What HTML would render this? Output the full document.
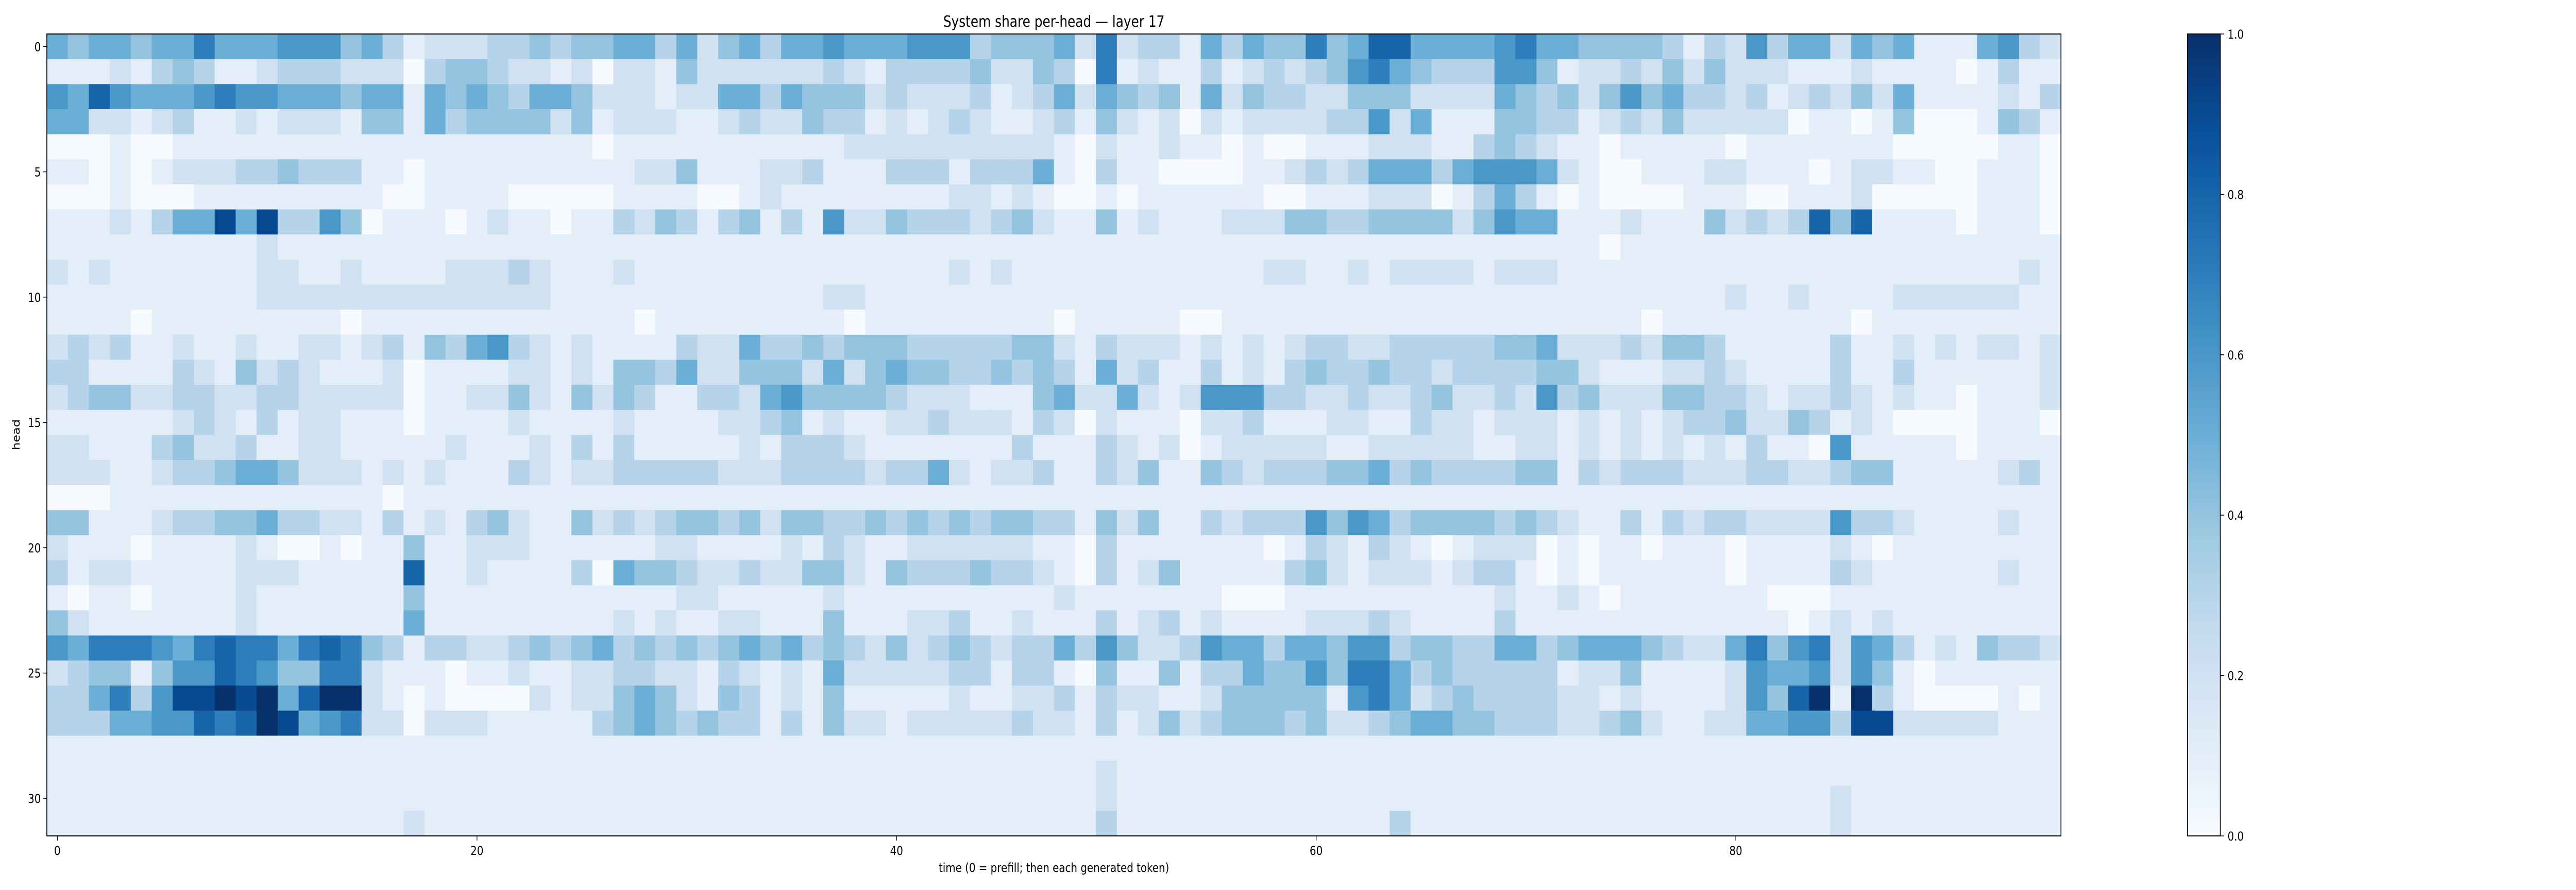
<!DOCTYPE html>
<html><head><meta charset="utf-8"><style>
html,body{margin:0;padding:0;background:#fff;width:100%;height:100%;overflow:hidden;}
#chart{display:block;position:absolute;left:0;top:0;width:100vw;height:100vh;}
svg text{font-family:"DejaVu Sans","Liberation Sans",sans-serif;fill:#000;}
</style></head><body>
<svg id="chart" viewBox="0 0 6047 1728" preserveAspectRatio="none" xmlns="http://www.w3.org/2000/svg">
<defs><linearGradient id="cbgrad" x1="0" y1="1" x2="0" y2="0">
<stop offset="0" stop-color="#f7fbff"/><stop offset="0.125" stop-color="#deebf7"/><stop offset="0.25" stop-color="#c6dbef"/><stop offset="0.375" stop-color="#9ecae1"/><stop offset="0.5" stop-color="#6baed6"/><stop offset="0.625" stop-color="#4292c6"/><stop offset="0.75" stop-color="#2171b5"/><stop offset="0.875" stop-color="#08519c"/><stop offset="1" stop-color="#08306b"/>
</linearGradient></defs>
<text x="2474" y="52" font-size="30" text-anchor="middle">System share per-head — layer 17</text>
<g id="cells"></g>
<g id="axes"></g>
<text x="2474" y="1693" font-size="24" text-anchor="middle">time (0 = prefill; then each generated token)</text>
<text x="0" y="0" font-size="24" text-anchor="middle" transform="translate(46,844) rotate(-90)">head</text>
<rect x="5135" y="66" width="77" height="1557" fill="url(#cbgrad)" stroke="#000" stroke-width="2"/>
<g id="cbticks"></g>
</svg>
<script>
const xTicks = [0, 20, 40, 60, 80];
const yTicks = [0, 5, 10, 15, 20, 25, 30];
const cbTicks = [0.0, 0.2, 0.4, 0.6, 0.8, 1.0];
const cbTickLabels = ["0.0", "0.2", "0.4", "0.6", "0.8", "1.0"];
// each char: hex digit / 10 = system share
const rows = [
"54554557 55566645 31222334 34455352 45355655 56663444 52723315 35447458 85555675 54444313 26355254 51115632",
"11121343 11233322 20344322 12022142 22222321 33334224 30712113 12323467 54333664 12232424 22211121 11101311",
"65865556 76655545 51545435 54222122 55354442 32223123 52543415 24332244 42222543 42464533 23123242 51111213",
"55221231 12122214 41534444 24122211 23224331 21232112 31421202 12222336 25111443 31232422 22201101 40001431",
"00010011 11111111 11111111 11011111 11111122 22222222 10211211 01001112 22113432 11011111 01111111 00000110",
"11010122 23343331 10111111 11112241 11223111 33313335 10311000 01123235 55356665 21001112 21110122 11001110",
"00010001 11111111 00111100 00011110 01211111 11122121 00101111 11001112 22013531 01000011 10011120 00001110",
"11121355 95933640 11101211 01132431 34131622 43332342 11412111 22244334 44424655 11121114 23238481 11101110",
"11111111 11211111 11111111 11111111 11111111 11111111 11111111 11111111 11111111 11011111 11111111 11111111",
"21211111 11221121 11122232 11121111 11111111 11121211 11111111 11221121 22221222 11111111 11111111 11111121",
"11111111 11222222 22222222 11111111 11111221 11111111 11111111 11111111 11111111 11111111 21121111 22222211",
"11110111 11111101 11111111 11110111 11111101 11111111 01111100 11111111 11111111 11110111 11111101 11111111",
"23231121 12112212 31435632 12111132 25334344 43333344 21322212 12123322 33333445 22232443 11111311 21212212",
"33111132 14232111 20111122 12144352 24442524 54433434 31523113 12134334 33233334 42111223 21111311 31111112",
"23442233 22332222 20112242 14243113 32564444 32221114 52252126 66332232 23422326 34222443 32122321 21101112",
"11111123 21312211 10111121 11121111 22341211 22322213 20211102 23111221 13221222 12121233 42243121 00001110",
"22111342 23112211 11121112 13131111 12133321 11111131 11321201 22222112 22221122 12121212 13110611 11101111",
"22211233 45542221 21211132 12233333 22233332 33521223 11324114 32333445 34333344 13233322 23322344 11111231",
"00011111 11111111 01111111 11111111 11111111 11111111 11111111 11111111 11111111 11111111 11111111 11111111",
"44111233 44533221 31213421 14232344 34244334 34343443 31424113 23336465 34444343 21131323 32222633 21111211",
"21110111 12100101 14112221 11111221 11121321 12222221 10311111 11013213 21012220 10110111 01111210 11111111",
"31221111 12221111 18112111 13054432 23224421 43334332 10312411 11134212 22123310 10111111 01111321 11111211",
"10110111 12111111 14111111 11111122 11111211 11111111 21111111 00011111 11111211 21011111 11000111 11111111",
"42111111 12111111 15111111 11121211 22111411 12231121 11312312 11112223 21111311 11111111 11101212 11111111",
"65777657 87757874 31332234 34534343 45453432 42343233 53642236 55355466 34433553 45554322 57467265 31214332",
"23441466 87644772 11101121 12233221 32121522 22233133 10411413 35446477 53433333 12241111 26556264 10111111",
"33573699 a9a58aa2 10100002 12245421 43121411 11121122 31322112 44444167 52343333 22121111 2648a1a3 10000101",
"33355668 78a95672 20222111 11345434 33131422 12222232 21312423 44434223 45544333 22342112 25566399 22222111",
"11111111 11111111 11111111 11111111 11111111 11111111 11111111 11111111 11111111 11111111 11111111 11111111",
"11111111 11111111 11111111 11111111 11111111 11111111 11211111 11111111 11111111 11111111 11111111 11111111",
"11111111 11111111 11111111 11111111 11111111 11111111 11211111 11111111 11111111 11111111 11111211 11111111",
"11111111 11111111 12111111 11111111 11111111 11111111 11311111 11111111 31111111 11111111 11111211 11111111"
];
const values = rows.map(r => r.replace(/ /g,'').split('').map(c => parseInt(c,16)/10));

const NS = "http://www.w3.org/2000/svg";
const PL = 110, PR = 4838, PT = 66, PB = 1623;
const nCols = values[0].length, nRows = values.length;
const cw = (PR-PL)/nCols, ch = (PB-PT)/nRows;
function xScale(i){ return PL + i*cw; }
function yScale(j){ return PT + j*ch; }
function cbScale(v){ return PB - v*(PB-PT); }
const stops = [[0,[247,251,255]],[0.125,[222,235,247]],[0.25,[198,219,239]],[0.375,[158,202,225]],[0.5,[107,174,214]],[0.625,[66,146,198]],[0.75,[33,113,181]],[0.875,[8,81,156]],[1,[8,48,107]]];
function color(v){
  v=Math.max(0,Math.min(1,v));
  for(let k=0;k<stops.length-1;k++){
    const [a,ca]=stops[k],[b,cb]=stops[k+1];
    if(v<=b){const t=(v-a)/(b-a);return 'rgb('+ca.map((c,i)=>Math.round(c+(cb[i]-c)*t)).join(',')+')';}
  }
  return 'rgb(8,48,107)';
}
const cells = document.getElementById('cells');
for(let j=0;j<nRows;j++){
  for(let i=0;i<nCols;i++){
    const r=document.createElementNS(NS,'rect');
    r.setAttribute('x',xScale(i)); r.setAttribute('y',yScale(j));
    r.setAttribute('width',cw+0.6); r.setAttribute('height',ch+0.6);
    r.setAttribute('fill',color(values[j][i]));
    
    
    cells.appendChild(r);
  }
}
const axes=document.getElementById('axes');
const frame=document.createElementNS(NS,'rect');
frame.setAttribute('x',PL);frame.setAttribute('y',PT);frame.setAttribute('width',PR-PL);frame.setAttribute('height',PB-PT);
frame.setAttribute('fill','none');frame.setAttribute('stroke','#000');frame.setAttribute('stroke-width','2');


axes.appendChild(frame);
xTicks.forEach(t=>{
  const x=xScale(t)+cw/2;
  const l=document.createElementNS(NS,'line');
  l.setAttribute('x1',x);l.setAttribute('x2',x);l.setAttribute('y1',PB);l.setAttribute('y2',PB+9);l.setAttribute('stroke','#000');l.setAttribute('stroke-width','1.5');
  
  
  axes.appendChild(l);
  const tx=document.createElementNS(NS,'text');
  tx.setAttribute('x',x);tx.setAttribute('y',PB+37);tx.setAttribute('font-size','24');tx.setAttribute('text-anchor','middle');
  tx.textContent=t;
  
  
  axes.appendChild(tx);
});
yTicks.forEach(t=>{
  const y=yScale(t)+ch/2;
  const l=document.createElementNS(NS,'line');
  l.setAttribute('x1',PL-9);l.setAttribute('x2',PL);l.setAttribute('y1',y);l.setAttribute('y2',y);l.setAttribute('stroke','#000');l.setAttribute('stroke-width','1.5');
  
  
  axes.appendChild(l);
  const tx=document.createElementNS(NS,'text');
  tx.setAttribute('x',PL-14);tx.setAttribute('y',y+9);tx.setAttribute('font-size','24');tx.setAttribute('text-anchor','end');
  tx.textContent=t;
  
  
  axes.appendChild(tx);
});
const cbt=document.getElementById('cbticks');
cbTicks.forEach((t,k)=>{
  const y=cbScale(t);
  const l=document.createElementNS(NS,'line');
  l.setAttribute('x1',5212);l.setAttribute('x2',5221);l.setAttribute('y1',y);l.setAttribute('y2',y);l.setAttribute('stroke','#000');l.setAttribute('stroke-width','1.5');
  
  
  cbt.appendChild(l);
  const tx=document.createElementNS(NS,'text');
  tx.setAttribute('x',5229);tx.setAttribute('y',y+9);tx.setAttribute('font-size','24');
  tx.textContent=cbTickLabels[k];
  
  
  cbt.appendChild(tx);
});
</script>
</body></html>
